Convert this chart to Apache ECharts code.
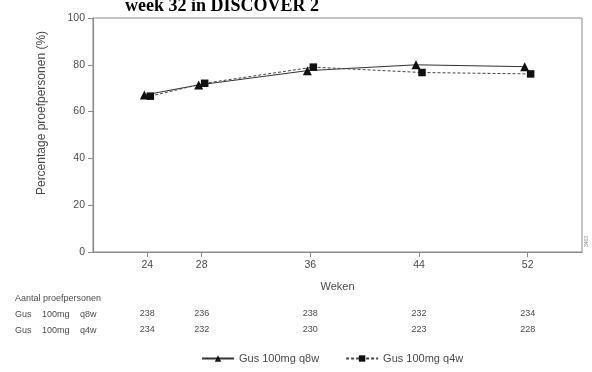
<!DOCTYPE html>
<html>
<head>
<meta charset="utf-8">
<script src="https://cdn.jsdelivr.net/npm/echarts@6/dist/echarts.min.js"></script>
<style>
  html, body { margin: 0; padding: 0; background: #fff; }
  #chart { width: 592px; height: 372px; }
</style>
</head>
<body>
<div id="chart"></div>
<script>
// Weeks at which the response rate was assessed
const weeks = [24, 28, 36, 44, 52];
// Percentage of subjects responding, per arm
const q8wPct = [67.1, 71.4, 77.5, 80.0, 79.2];
const q4wPct = [66.6, 72.1, 79.0, 76.7, 76.1];
// Number of subjects per arm at each week
const q8wN = [238, 236, 238, 232, 234];
const q4wN = [234, 232, 230, 223, 228];
const yTicks = [0, 20, 40, 60, 80, 100];

const seriesNames = ['Gus 100mg q8w', 'Gus 100mg q4w'];
const DODGE = 0.22; // small horizontal offset so the two arms don't overlap

const FONT = '"Liberation Sans", Arial, Helvetica, sans-serif';
const TXT = '#4a4a4a';
const AXIS = '#8a8a8a';

const chart = echarts.init(document.getElementById('chart'), null, { renderer: 'canvas' });

const nByWeek = (arr) => {
  const m = {};
  weeks.forEach((w, i) => { m[w] = arr[i]; });
  return m;
};
const n8 = nByWeek(q8wN);
const n4 = nByWeek(q4wN);

// Hidden axes that only carry the subject counts under each week
const countAxis = (map, offset) => ({
  type: 'value', min: 20, max: 56, position: 'bottom', offset: offset,
  axisLine: { show: false }, axisTick: { show: false }, splitLine: { show: false },
  axisLabel: {
    customValues: weeks, margin: 0, verticalAlign: 'middle',
    fontFamily: FONT, fontSize: 9, color: TXT,
    formatter: (v) => (map[v] !== undefined ? String(map[v]) : '')
  }
});

const option = {
  animation: false,
  backgroundColor: '#fff',
  grid: { left: 93, right: 10, top: 18, bottom: 120, show: true, borderColor: AXIS, borderWidth: 1 },
  xAxis: [
    {
      type: 'value', min: 20, max: 56,
      name: 'Weken', nameLocation: 'middle', nameGap: 29,
      nameTextStyle: { fontFamily: FONT, fontSize: 11, color: TXT },
      axisLine: { show: true, lineStyle: { color: AXIS, width: 1.2 } },
      axisTick: { show: true, customValues: weeks, length: 5, lineStyle: { color: AXIS } },
      axisLabel: { customValues: weeks, fontFamily: FONT, fontSize: 10.5, color: TXT, margin: 8 },
      splitLine: { show: false }
    },
    countAxis(n8, 62),
    countAxis(n4, 78)
  ],
  yAxis: {
    type: 'value', min: 0, max: 100, interval: 20,
    axisLine: { show: true, lineStyle: { color: AXIS, width: 1.2 } },
    axisTick: { show: true, length: 5, lineStyle: { color: AXIS } },
    axisLabel: { fontFamily: FONT, fontSize: 10.5, color: TXT, margin: 8,
      formatter: (v) => (yTicks.includes(v) ? String(v) : '') },
    splitLine: { show: false }
  },
  legend: {
    bottom: 3, left: 196, itemWidth: 32, itemHeight: 8, itemGap: 26,
    textStyle: { fontFamily: FONT, fontSize: 11, color: TXT },
    data: seriesNames
  },
  series: [
    {
      name: seriesNames[0], type: 'line',
      data: weeks.map((w, i) => [w - DODGE, q8wPct[i]]),
      symbol: 'triangle', symbolSize: 9,
      itemStyle: { color: '#111' },
      lineStyle: { color: '#333', width: 1, type: 'solid' }
    },
    {
      name: seriesNames[1], type: 'line',
      data: weeks.map((w, i) => [w + DODGE, q4wPct[i]]),
      symbol: 'rect', symbolSize: 7.5,
      itemStyle: { color: '#111' },
      lineStyle: { color: '#444', width: 1, type: [3, 2] }
    }
  ],
  graphic: [
    { type: 'text', left: 125, top: -3,
      style: { text: 'week 32 in DISCOVER 2', font: 'bold 18px "Liberation Serif", "Times New Roman", serif', fill: '#000' } },
    // Y axis title, centred a little above the middle of the plot
    { type: 'text', x: 42, y: 113, rotation: Math.PI / 2,
      style: { text: 'Percentage proefpersonen (%)', font: '12px ' + FONT, fill: TXT,
        align: 'center', verticalAlign: 'middle' } },
    { type: 'text', left: 15, top: 294,
      style: { text: 'Aantal proefpersonen', font: '9px ' + FONT, fill: TXT } },
    { type: 'text', left: 15, top: 310, style: { text: 'Gus', font: '9px ' + FONT, fill: TXT } },
    { type: 'text', left: 42, top: 310, style: { text: '100mg', font: '9px ' + FONT, fill: TXT } },
    { type: 'text', left: 80, top: 310, style: { text: 'q8w', font: '9px ' + FONT, fill: TXT } },
    { type: 'text', left: 15, top: 326, style: { text: 'Gus', font: '9px ' + FONT, fill: TXT } },
    { type: 'text', left: 42, top: 326, style: { text: '100mg', font: '9px ' + FONT, fill: TXT } },
    { type: 'text', left: 80, top: 326, style: { text: 'q4w', font: '9px ' + FONT, fill: TXT } },
    { type: 'text', left: 584, top: 236, rotation: Math.PI / 2,
      style: { text: '3403', font: '5px ' + FONT, fill: '#888' } }
  ]
};

chart.setOption(option);
</script>
</body>
</html>
